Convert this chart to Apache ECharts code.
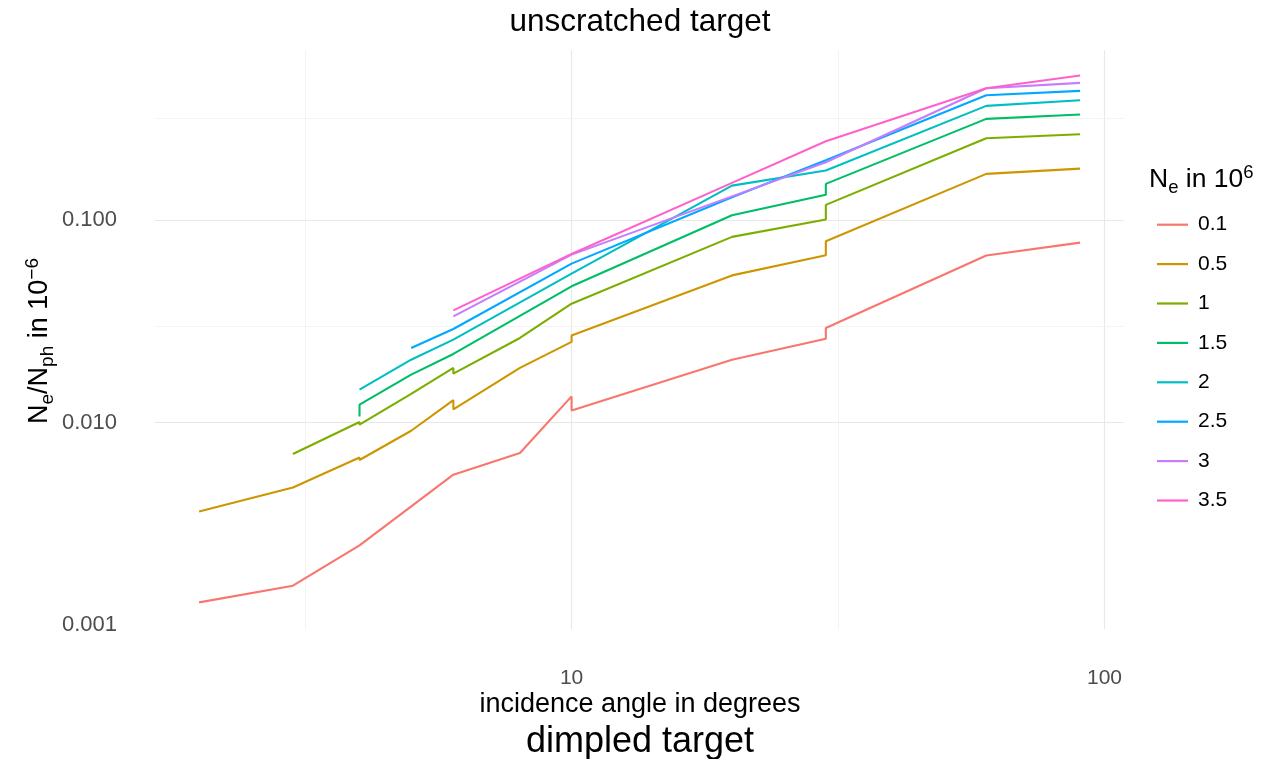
<!DOCTYPE html>
<html>
<head>
<meta charset="utf-8">
<script src="https://cdn.jsdelivr.net/npm/echarts@6/dist/echarts.min.js"></script>
<style>
html,body{margin:0;padding:0;background:#fff;}
#chart{width:1264px;height:759px;}
</style>
</head>
<body>
<div id="chart"></div>
<script>
// ---- data ----
const seriesNames = ['0.1', '0.5', '1', '1.5', '2', '2.5', '3', '3.5'];
const colors = ['#F8766D', '#CD9600', '#7CAE00', '#00BE67', '#00BFC4', '#00A9FF', '#C77CFF', '#FF61CC'];

const x01 = [2, 3, 4, 6, 8, 10, 10, 20, 30, 30, 60, 90];
const y01 = [0.00129, 0.00156, 0.00247, 0.00552, 0.00706, 0.01345, 0.01147, 0.0204, 0.0259, 0.0293, 0.0668, 0.0774];

const x05 = [2, 3, 4, 4, 5, 6, 6, 8, 10, 10, 20, 30, 30, 60, 90];
const y05 = [0.00363, 0.00477, 0.00671, 0.00652, 0.0091, 0.0129, 0.0116, 0.0186, 0.0250, 0.0269, 0.0533, 0.0670, 0.0786, 0.1692, 0.1797];

const x1 = [3, 4, 4, 5, 6, 6, 8, 10, 20, 30, 30, 60, 90];
const y1 = [0.00698, 0.01005, 0.00975, 0.01383, 0.01859, 0.01742, 0.02615, 0.03864, 0.0826, 0.1006, 0.1189, 0.2537, 0.2655];

const x15 = [4, 4, 5, 6, 10, 20, 30, 30, 60, 90];
const y15 = [0.01071, 0.01224, 0.01722, 0.0218, 0.04707, 0.1056, 0.1336, 0.1510, 0.3165, 0.3324];

const x2 = [4, 5, 6, 10, 20, 30, 60, 90];
const y2 = [0.01452, 0.02042, 0.02566, 0.05438, 0.1481, 0.1757, 0.367, 0.3912];

const x25 = [5, 6, 10, 20, 30, 60, 90];
const y25 = [0.02333, 0.02897, 0.06095, 0.1296, 0.1976, 0.414, 0.4354];

const x3 = [6, 10, 20, 30, 60, 90];
const y3 = [0.03345, 0.06752, 0.131, 0.1931, 0.4485, 0.4769];

const x35 = [6, 10, 20, 30, 60, 90];
const y35 = [0.03581, 0.06806, 0.1528, 0.2453, 0.4485, 0.5183];

const xTickValues = [10, 100];
const xTickLabels = ['10', '100'];
const yTickValues = [0.001, 0.01, 0.1];
const yTickLabels = ['0.001', '0.010', '0.100'];
const xMinorValues = [3.1623, 31.623];
const yMinorValues = [0.0031623, 0.031623, 0.31623];

// ---- build ----
const allX = [x01, x05, x1, x15, x2, x25, x3, x35];
const allY = [y01, y05, y1, y15, y2, y25, y3, y35];

function findLabel(v, vals, labels) {
  for (let i = 0; i < vals.length; i++) {
    if (Math.abs(Math.log10(v) - Math.log10(vals[i])) < 1e-6) return labels[i];
  }
  return '';
}

const series = seriesNames.map((n, i) => ({
  name: n,
  type: 'line',
  data: allX[i].map((x, j) => [x, allY[i][j]]),
  showSymbol: false,
  symbol: 'none',
  z: 3,
  lineStyle: { color: colors[i], width: 2.1 },
  itemStyle: { color: colors[i] },
  emphasis: { disabled: true },
  animation: false
}));

const gridLines = [];
xTickValues.forEach(v => gridLines.push({ xAxis: v, lineStyle: { color: '#e8e8e8', width: 1.2, type: 'solid' } }));
xMinorValues.forEach(v => gridLines.push({ xAxis: v, lineStyle: { color: '#f3f3f3', width: 1, type: 'solid' } }));
yTickValues.forEach(v => gridLines.push({ yAxis: v, lineStyle: { color: '#e8e8e8', width: 1.2, type: 'solid' } }));
yMinorValues.forEach(v => gridLines.push({ yAxis: v, lineStyle: { color: '#f3f3f3', width: 1, type: 'solid' } }));

series.unshift({
  name: '__grid',
  type: 'line',
  data: [],
  z: 0,
  silent: true,
  animation: false,
  markLine: {
    z: 0,
    silent: true,
    symbol: ['none', 'none'],
    label: { show: false },
    animation: false,
    data: gridLines
  }
});

const chart = echarts.init(document.getElementById('chart'), null, { renderer: 'canvas' });
const FONT = 'Liberation Sans, Arial, sans-serif';

chart.setOption({
  backgroundColor: '#ffffff',
  animation: false,
  textStyle: { fontFamily: FONT },
  grid: { left: 155, right: 140, top: 50, bottom: 130, containLabel: false },
  xAxis: {
    type: 'log', logBase: 10, min: 1.653, max: 108.8,
    axisLine: { show: false }, axisTick: { show: false }, splitLine: { show: false },
    minorTick: { show: false }, minorSplitLine: { show: false },
    axisLabel: {
      showMinLabel: false, showMaxLabel: false,
      fontSize: 21, color: '#4d4d4d', margin: 39, fontFamily: FONT,
      formatter: v => findLabel(v, xTickValues, xTickLabels)
    }
  },
  yAxis: {
    type: 'log', logBase: 10, min: 0.000953, max: 0.693,
    axisLine: { show: false }, axisTick: { show: false }, splitLine: { show: false },
    minorTick: { show: false }, minorSplitLine: { show: false },
    axisLabel: {
      showMinLabel: false, showMaxLabel: false,
      fontSize: 22, color: '#4d4d4d', margin: 38, fontFamily: FONT,
      formatter: v => findLabel(v, yTickValues, yTickLabels)
    }
  },
  legend: {
    orient: 'vertical',
    left: 1152, top: 209.2,
    icon: 'rect',
    itemWidth: 31, itemHeight: 2.2, itemGap: 18.4,
    data: seriesNames,
    selectedMode: false,
    textStyle: { fontSize: 21, color: '#000', fontFamily: FONT, padding: [0, 0, 0, 5] }
  },
  graphic: [
    { type: 'text', x: 640, y: 22, silent: true,
      style: { text: 'unscratched target', fontSize: 31.5, fontFamily: FONT, fill: '#000', align: 'center', verticalAlign: 'middle' } },
    { type: 'text', x: 640, y: 705, silent: true,
      style: { text: 'incidence angle in degrees', fontSize: 27, fontFamily: FONT, fill: '#000', align: 'center', verticalAlign: 'middle' } },
    { type: 'text', x: 640, y: 742, silent: true,
      style: { text: 'dimpled target', fontSize: 36, fontFamily: FONT, fill: '#000', align: 'center', verticalAlign: 'middle' } },
    { type: 'text', x: 40, y: 341, rotation: Math.PI / 2, silent: true,
      style: {
        text: '{m|N}{sb|e}{m|/N}{sb|ph}{m| in 10}{sp|−6}',
        align: 'center', verticalAlign: 'middle', fill: '#000', fontFamily: FONT,
        rich: {
          m: { fontSize: 27, lineHeight: 34, fontFamily: FONT, color: '#000' },
          sb: { fontSize: 19, lineHeight: 19, verticalAlign: 'bottom', fontFamily: FONT, color: '#000' },
          sp: { fontSize: 19, lineHeight: 19, verticalAlign: 'top', fontFamily: FONT, color: '#000' }
        }
      } },
    { type: 'text', x: 1149, y: 180, silent: true,
      style: {
        text: '{m|N}{sb|e}{m| in 10}{sp|6}',
        align: 'left', verticalAlign: 'middle', fill: '#000', fontFamily: FONT,
        rich: {
          m: { fontSize: 26.5, lineHeight: 34, fontFamily: FONT, color: '#000' },
          sb: { fontSize: 18.5, lineHeight: 18, verticalAlign: 'bottom', fontFamily: FONT, color: '#000' },
          sp: { fontSize: 18.5, lineHeight: 18, verticalAlign: 'top', fontFamily: FONT, color: '#000' }
        }
      } }
  ],
  series: series
});
</script>
</body>
</html>
